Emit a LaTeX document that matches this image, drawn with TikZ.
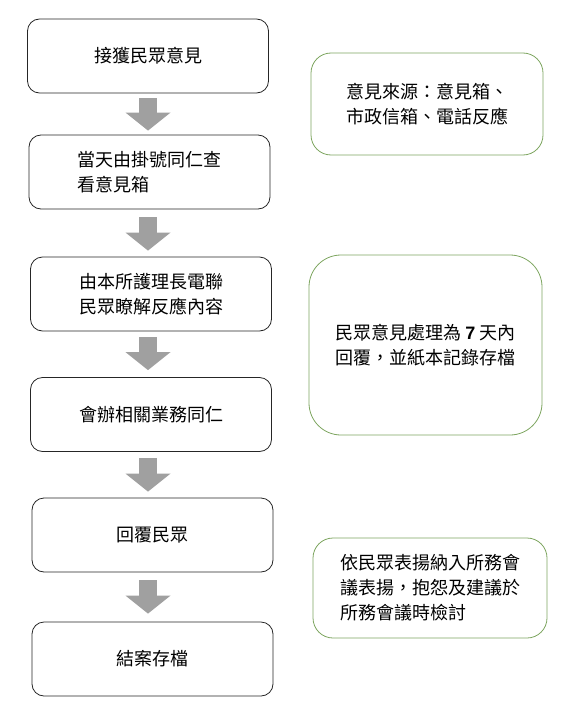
\documentclass[tikz,border=0pt]{standalone}
\usepackage{fontspec}
\setmainfont{Noto Sans CJK TC}
\newfontfamily\numfont{Liberation Sans}
\usetikzlibrary{arrows.meta}

\definecolor{notegreen}{RGB}{125,165,95}
\definecolor{arrowgray}{RGB}{160,160,160}

\tikzset{
  stepbox/.style={draw=black!85, line width=0.8pt, rounded corners=12pt,
    minimum width=241pt, minimum height=74pt, align=center,
    font=\fontsize{18}{25}\selectfont},
  notebox/.style={draw=notegreen, line width=0.8pt, align=left,
    font=\fontsize{18}{25}\selectfont},
  flowarrow/.style={arrowgray, line width=18pt,
    -{Triangle[width=45pt,length=18pt,line width=0pt]}}
}

\begin{document}
\begin{tikzpicture}[x=1pt, y=-1pt]
\useasboundingbox (0,0) rectangle (568,717);

% Main steps
\node[stepbox] (recv) at (148,56) {接獲民眾意見};
\node[stepbox, align=left] (check) at (149.5,172) {當天由掛號同仁查\\看意見箱};
\node[stepbox] (call) at (151,294) {由本所護理長電聯\\民眾瞭解反應內容};
\node[stepbox] (coop) at (151,414.5) {會辦相關業務同仁};
\node[stepbox] (reply) at (152.5,535) {回覆民眾};
\node[stepbox] (close) at (152.5,659) {結案存檔};

% Block arrows between the steps
\coordinate (axis) at (148,0);
\draw[flowarrow] ([yshift=-5pt]axis |- recv.south) -- ([yshift=4pt]axis |- check.north);
\draw[flowarrow] ([yshift=-8pt]axis |- check.south) -- ([yshift=6pt]axis |- call.north);
\draw[flowarrow] ([yshift=-6pt]axis |- call.south) -- ([yshift=7pt]axis |- coop.north);
\draw[flowarrow] ([yshift=-6pt]axis |- coop.south) -- ([yshift=6pt]axis |- reply.north);
\draw[flowarrow] ([yshift=-8pt]axis |- reply.south) -- ([yshift=8pt]axis |- close.north);

% Side notes
\node[notebox, rounded corners=20pt, minimum width=232pt, minimum height=102pt]
  (source) at (427,104) {意見來源：意見箱、\\市政信箱、電話反應};
\node[notebox, rounded corners=32pt, minimum width=233pt, minimum height=180pt]
  (limit) at (425.5,345) {民眾意見處理為 {\numfont\bfseries 7} 天內\\回覆，並紙本記錄存檔};
\node[notebox, rounded corners=20pt, minimum width=234pt, minimum height=100pt]
  (praise) at (430,588) {依民眾表揚納入所務會\\議表揚，抱怨及建議於\\所務會議時檢討};

\end{tikzpicture}
\end{document}
